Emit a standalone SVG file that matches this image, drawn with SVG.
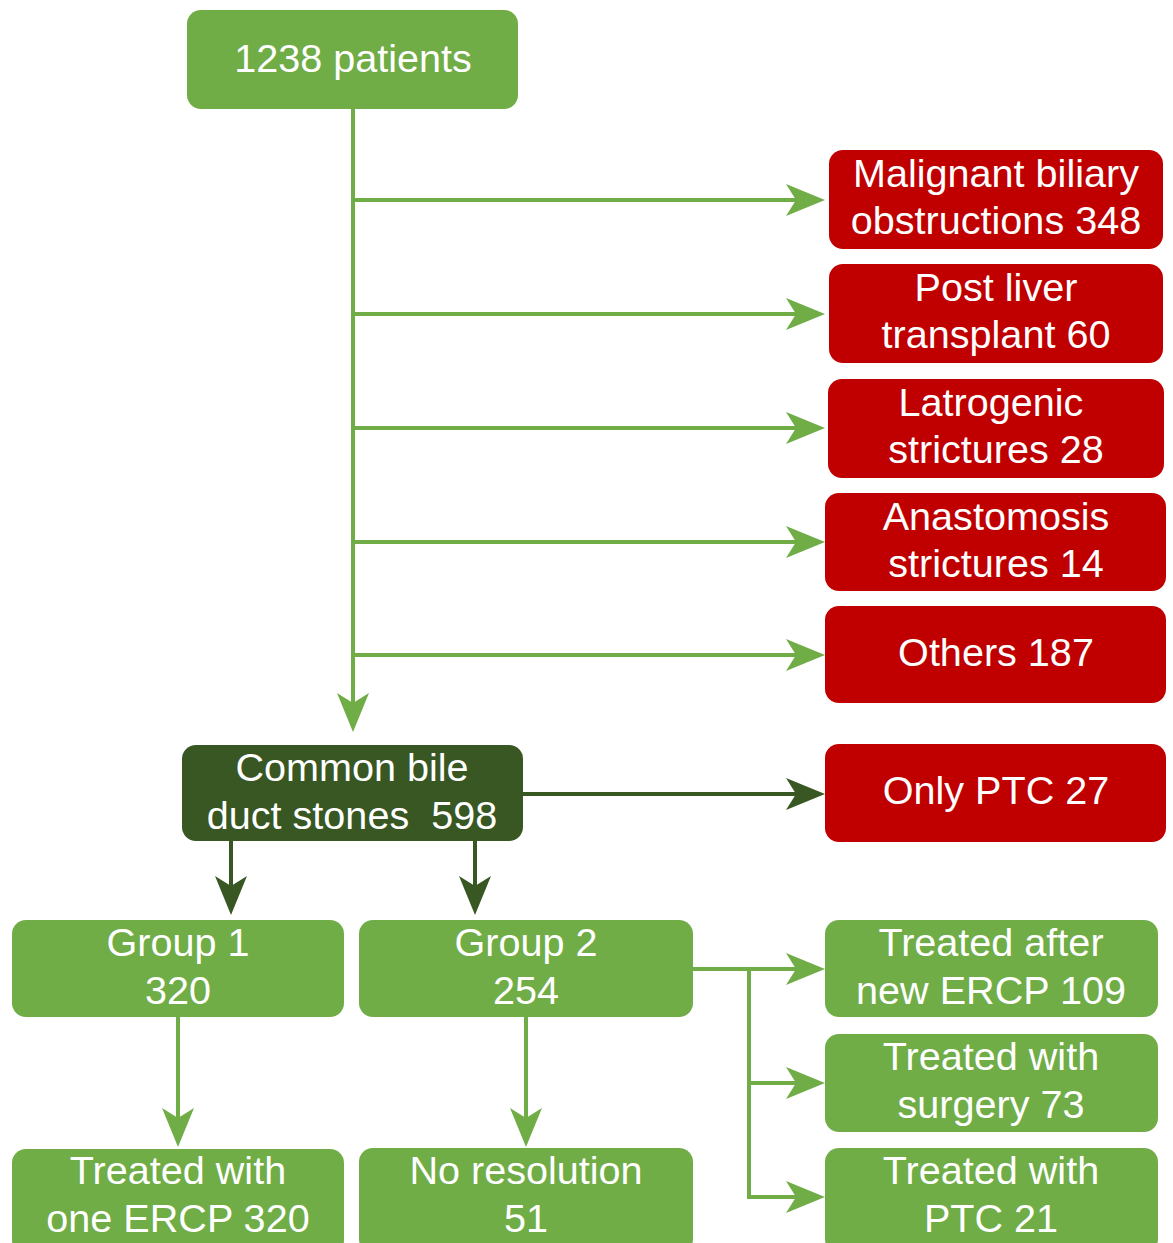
<svg xmlns="http://www.w3.org/2000/svg" width="1173" height="1243" viewBox="0 0 1173 1243">
<style>
.g{fill:#70AD47}
.r{fill:#C00000}
.d{fill:#385723}
text{font-family:"Liberation Sans",Arial,sans-serif;font-size:39.6px;fill:#FFFFFF;text-anchor:middle}
.lg{stroke:#70AD47;stroke-width:4;fill:none}
.ld{stroke:#385723;stroke-width:4;fill:none}
</style>
<defs>
<marker id="ag" markerUnits="userSpaceOnUse" orient="auto" refX="0" refY="0" markerWidth="40" markerHeight="34" overflow="visible">
<path d="M29,0 L-10,-16 L0,0 L-10,16 Z" fill="#70AD47"/>
</marker>
<marker id="ad" markerUnits="userSpaceOnUse" orient="auto" refX="0" refY="0" markerWidth="40" markerHeight="34" overflow="visible">
<path d="M29,0 L-10,-16 L0,0 L-10,16 Z" fill="#385723"/>
</marker>
</defs>
<g id="connectors">
<line class="lg" x1="353" y1="109" x2="353" y2="703" marker-end="url(#ag)"/>
<line class="lg" x1="351" y1="200" x2="796" y2="200" marker-end="url(#ag)"/>
<line class="lg" x1="351" y1="314" x2="796" y2="314" marker-end="url(#ag)"/>
<line class="lg" x1="351" y1="428" x2="796" y2="428" marker-end="url(#ag)"/>
<line class="lg" x1="351" y1="542" x2="796" y2="542" marker-end="url(#ag)"/>
<line class="lg" x1="351" y1="655" x2="796" y2="655" marker-end="url(#ag)"/>
<line class="ld" x1="523" y1="794" x2="796" y2="794" marker-end="url(#ad)"/>
<line class="ld" x1="231" y1="841" x2="231" y2="886" marker-end="url(#ad)"/>
<line class="ld" x1="475" y1="841" x2="475" y2="886" marker-end="url(#ad)"/>
<line class="lg" x1="178" y1="1017" x2="178" y2="1118" marker-end="url(#ag)"/>
<line class="lg" x1="526" y1="1017" x2="526" y2="1118" marker-end="url(#ag)"/>
<line class="lg" x1="693" y1="969" x2="796" y2="969" marker-end="url(#ag)"/>
<polyline class="lg" points="749,969 749,1197 796,1197" marker-end="url(#ag)"/>
<line class="lg" x1="749" y1="1083" x2="796" y2="1083" marker-end="url(#ag)"/>
</g>
<g id="n-patients">
<rect class="g" x="187" y="10" width="331" height="99" rx="14"/>
<text x="353" y="72">1238 patients</text>
</g>
<g id="n-malignant">
<rect class="r" x="829" y="150" width="334" height="99" rx="14"/>
<text x="996" y="187">Malignant biliary</text>
<text x="996" y="234">obstructions 348</text>
</g>
<g id="n-postliver">
<rect class="r" x="829" y="264" width="334" height="99" rx="14"/>
<text x="996" y="301">Post liver</text>
<text x="996" y="348">transplant 60</text>
</g>
<g id="n-latrogenic">
<rect class="r" x="828" y="379" width="336" height="99" rx="14"/>
<text x="991" y="416">Latrogenic</text>
<text x="996" y="463">strictures 28</text>
</g>
<g id="n-anastomosis">
<rect class="r" x="825" y="493" width="341" height="98" rx="14"/>
<text x="996" y="530">Anastomosis</text>
<text x="996" y="577">strictures 14</text>
</g>
<g id="n-others">
<rect class="r" x="825" y="606" width="341" height="97" rx="14"/>
<text x="996" y="666">Others 187</text>
</g>
<g id="n-cbd">
<rect class="d" x="182" y="745" width="341" height="96" rx="14"/>
<text x="352" y="781">Common bile</text>
<text x="352" y="829" xml:space="preserve">duct stones  598</text>
</g>
<g id="n-onlyptc">
<rect class="r" x="825" y="744" width="341" height="98" rx="14"/>
<text x="996" y="804">Only PTC 27</text>
</g>
<g id="n-group1">
<rect class="g" x="12" y="920" width="332" height="97" rx="14"/>
<text x="178" y="956">Group 1</text>
<text x="178" y="1004">320</text>
</g>
<g id="n-group2">
<rect class="g" x="359" y="920" width="334" height="97" rx="14"/>
<text x="526" y="956">Group 2</text>
<text x="526" y="1004">254</text>
</g>
<g id="n-newercp">
<rect class="g" x="825" y="920" width="333" height="97" rx="14"/>
<text x="991" y="956">Treated after</text>
<text x="991" y="1004">new ERCP 109</text>
</g>
<g id="n-surgery">
<rect class="g" x="825" y="1034" width="333" height="98" rx="14"/>
<text x="991" y="1070">Treated with</text>
<text x="991" y="1118">surgery 73</text>
</g>
<g id="n-ptc21">
<rect class="g" x="825" y="1148" width="333" height="105" rx="14"/>
<text x="991" y="1184">Treated with</text>
<text x="991" y="1232">PTC 21</text>
</g>
<g id="n-oneercp">
<rect class="g" x="12" y="1149" width="332" height="105" rx="14"/>
<text x="178" y="1184">Treated with</text>
<text x="178" y="1232">one ERCP 320</text>
</g>
<g id="n-noresolution">
<rect class="g" x="359" y="1148" width="334" height="105" rx="14"/>
<text x="526" y="1184">No resolution</text>
<text x="526" y="1232">51</text>
</g>
</svg>
